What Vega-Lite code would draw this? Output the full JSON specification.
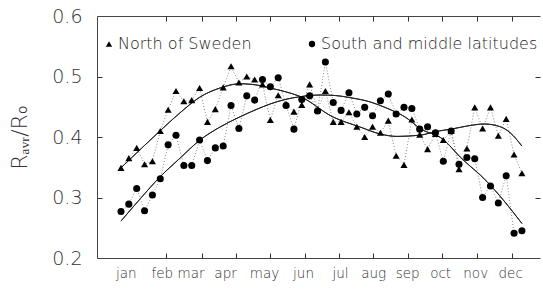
{
  "$schema": "https://vega.github.io/schema/vega-lite/v6.json",
  "width": 443,
  "height": 242,
  "autosize": {"type": "none"},
  "padding": {"left": 97, "top": 16, "right": 3, "bottom": 32},
  "background": "white",
  "config": {
    "view": {"stroke": null},
    "font": "DejaVu Sans",
    "axis": {"grid": false, "domainColor": "#444", "tickColor": "#333", "labelColor": "#333", "titleColor": "#333", "labelFont": "DejaVu Sans", "titleFont": "DejaVu Sans", "labelFontWeight": 200, "titleFontWeight": 200}
  },
  "datasets": {
    "obs": [
      {"week":1,"series":"North of Sweden","value":0.349},{"week":2,"series":"North of Sweden","value":0.365},{"week":3,"series":"North of Sweden","value":0.382},{"week":4,"series":"North of Sweden","value":0.355},{"week":5,"series":"North of Sweden","value":0.360},{"week":6,"series":"North of Sweden","value":0.410},{"week":7,"series":"North of Sweden","value":0.445},{"week":8,"series":"North of Sweden","value":0.476},{"week":9,"series":"North of Sweden","value":0.459},{"week":10,"series":"North of Sweden","value":0.461},
      {"week":11,"series":"North of Sweden","value":0.481},{"week":12,"series":"North of Sweden","value":0.425},{"week":13,"series":"North of Sweden","value":0.446},{"week":14,"series":"North of Sweden","value":0.482},{"week":15,"series":"North of Sweden","value":0.517},{"week":16,"series":"North of Sweden","value":0.490},{"week":17,"series":"North of Sweden","value":0.500},{"week":18,"series":"North of Sweden","value":0.495},{"week":19,"series":"North of Sweden","value":0.487},{"week":20,"series":"North of Sweden","value":0.428},
      {"week":21,"series":"North of Sweden","value":0.469},{"week":22,"series":"North of Sweden","value":0.455},{"week":23,"series":"North of Sweden","value":0.442},{"week":24,"series":"North of Sweden","value":0.453},{"week":25,"series":"North of Sweden","value":0.487},{"week":26,"series":"North of Sweden","value":0.445},{"week":27,"series":"North of Sweden","value":0.476},{"week":28,"series":"North of Sweden","value":0.425},{"week":29,"series":"North of Sweden","value":0.425},{"week":30,"series":"North of Sweden","value":0.441},
      {"week":31,"series":"North of Sweden","value":0.417},{"week":32,"series":"North of Sweden","value":0.400},{"week":33,"series":"North of Sweden","value":0.417},{"week":34,"series":"North of Sweden","value":0.407},{"week":35,"series":"North of Sweden","value":0.427},{"week":36,"series":"North of Sweden","value":0.369},{"week":37,"series":"North of Sweden","value":0.354},{"week":38,"series":"North of Sweden","value":0.429},{"week":39,"series":"North of Sweden","value":0.404},{"week":40,"series":"North of Sweden","value":0.380},
      {"week":41,"series":"North of Sweden","value":0.405},{"week":42,"series":"North of Sweden","value":0.395},{"week":43,"series":"North of Sweden","value":0.410},{"week":44,"series":"North of Sweden","value":0.347},{"week":45,"series":"North of Sweden","value":0.381},{"week":46,"series":"North of Sweden","value":0.449},{"week":47,"series":"North of Sweden","value":0.414},{"week":48,"series":"North of Sweden","value":0.449},{"week":49,"series":"North of Sweden","value":0.402},{"week":50,"series":"North of Sweden","value":0.430},
      {"week":51,"series":"North of Sweden","value":0.371},{"week":52,"series":"North of Sweden","value":0.340},
      {"week":1,"series":"South and middle latitudes","value":0.277},{"week":2,"series":"South and middle latitudes","value":0.289},{"week":3,"series":"South and middle latitudes","value":0.315},{"week":4,"series":"South and middle latitudes","value":0.278},{"week":5,"series":"South and middle latitudes","value":0.304},{"week":6,"series":"South and middle latitudes","value":0.331},{"week":7,"series":"South and middle latitudes","value":0.387},{"week":8,"series":"South and middle latitudes","value":0.403},{"week":9,"series":"South and middle latitudes","value":0.353},{"week":10,"series":"South and middle latitudes","value":0.353},
      {"week":11,"series":"South and middle latitudes","value":0.395},{"week":12,"series":"South and middle latitudes","value":0.361},{"week":13,"series":"South and middle latitudes","value":0.382},{"week":14,"series":"South and middle latitudes","value":0.385},{"week":15,"series":"South and middle latitudes","value":0.452},{"week":16,"series":"South and middle latitudes","value":0.414},{"week":17,"series":"South and middle latitudes","value":0.468},{"week":18,"series":"South and middle latitudes","value":0.461},{"week":19,"series":"South and middle latitudes","value":0.495},{"week":20,"series":"South and middle latitudes","value":0.483},
      {"week":21,"series":"South and middle latitudes","value":0.498},{"week":22,"series":"South and middle latitudes","value":0.452},{"week":23,"series":"South and middle latitudes","value":0.413},{"week":24,"series":"South and middle latitudes","value":0.462},{"week":25,"series":"South and middle latitudes","value":0.468},{"week":26,"series":"South and middle latitudes","value":0.443},{"week":27,"series":"South and middle latitudes","value":0.524},{"week":28,"series":"South and middle latitudes","value":0.457},{"week":29,"series":"South and middle latitudes","value":0.444},{"week":30,"series":"South and middle latitudes","value":0.473},
      {"week":31,"series":"South and middle latitudes","value":0.438},{"week":32,"series":"South and middle latitudes","value":0.449},{"week":33,"series":"South and middle latitudes","value":0.435},{"week":34,"series":"South and middle latitudes","value":0.460},{"week":35,"series":"South and middle latitudes","value":0.471},{"week":36,"series":"South and middle latitudes","value":0.438},{"week":37,"series":"South and middle latitudes","value":0.449},{"week":38,"series":"South and middle latitudes","value":0.447},{"week":39,"series":"South and middle latitudes","value":0.413},{"week":40,"series":"South and middle latitudes","value":0.417},
      {"week":41,"series":"South and middle latitudes","value":0.407},{"week":42,"series":"South and middle latitudes","value":0.360},{"week":43,"series":"South and middle latitudes","value":0.410},{"week":44,"series":"South and middle latitudes","value":0.355},{"week":45,"series":"South and middle latitudes","value":0.366},{"week":46,"series":"South and middle latitudes","value":0.364},{"week":47,"series":"South and middle latitudes","value":0.300},{"week":48,"series":"South and middle latitudes","value":0.319},{"week":49,"series":"South and middle latitudes","value":0.291},{"week":50,"series":"South and middle latitudes","value":0.336},
      {"week":51,"series":"South and middle latitudes","value":0.241},{"week":52,"series":"South and middle latitudes","value":0.245}
    ],
    "fit": [
      {"week":1,"series":"North of Sweden","value":0.349},{"week":3.42,"series":"North of Sweden","value":0.379},{"week":5.96,"series":"North of Sweden","value":0.410},{"week":8.51,"series":"North of Sweden","value":0.440},{"week":11.05,"series":"North of Sweden","value":0.466},{"week":13.6,"series":"North of Sweden","value":0.481},{"week":16.15,"series":"North of Sweden","value":0.488},{"week":18.69,"series":"North of Sweden","value":0.485},{"week":19.96,"series":"North of Sweden","value":0.481},{"week":21.87,"series":"North of Sweden","value":0.475},{"week":23.78,"series":"North of Sweden","value":0.467},{"week":27.98,"series":"North of Sweden","value":0.433},{"week":31.42,"series":"North of Sweden","value":0.4165},{"week":33.96,"series":"North of Sweden","value":0.405},{"week":36.1,"series":"North of Sweden","value":0.401},{"week":39.06,"series":"North of Sweden","value":0.403},{"week":41.0,"series":"North of Sweden","value":0.409},{"week":43.0,"series":"North of Sweden","value":0.413},{"week":45.4,"series":"North of Sweden","value":0.419},{"week":47.2,"series":"North of Sweden","value":0.4215},{"week":49.24,"series":"North of Sweden","value":0.417},{"week":50.51,"series":"North of Sweden","value":0.407},{"week":52,"series":"North of Sweden","value":0.385},
      {"week":1,"series":"South and middle latitudes","value":0.261},{"week":3.42,"series":"South and middle latitudes","value":0.2975},{"week":5.96,"series":"South and middle latitudes","value":0.334},{"week":8.51,"series":"South and middle latitudes","value":0.365},{"week":11.05,"series":"South and middle latitudes","value":0.395},{"week":13.6,"series":"South and middle latitudes","value":0.4165},{"week":15.76,"series":"South and middle latitudes","value":0.431},{"week":18.05,"series":"South and middle latitudes","value":0.4446},{"week":19.96,"series":"South and middle latitudes","value":0.4545},{"week":21.87,"series":"South and middle latitudes","value":0.462},{"week":23.78,"series":"South and middle latitudes","value":0.4666},{"week":26.33,"series":"South and middle latitudes","value":0.4694},{"week":28.24,"series":"South and middle latitudes","value":0.4686},{"week":30.15,"series":"South and middle latitudes","value":0.465},{"week":32.69,"series":"South and middle latitudes","value":0.458},{"week":34.86,"series":"South and middle latitudes","value":0.4474},{"week":37.15,"series":"South and middle latitudes","value":0.433},{"week":39.06,"series":"South and middle latitudes","value":0.414},{"week":41.98,"series":"South and middle latitudes","value":0.396},{"week":44.14,"series":"South and middle latitudes","value":0.367},{"week":47.58,"series":"South and middle latitudes","value":0.326},{"week":49.62,"series":"South and middle latitudes","value":0.296},{"week":52,"series":"South and middle latitudes","value":0.257}
    ]
  },
  "resolve": {"axis": {"x": "independent", "y": "independent"}},
  "layer": [
    {
      "data": {"name": "obs"},
      "mark": {"type": "line", "strokeDash": [1, 2], "strokeWidth": 1, "color": "#888"},
      "encoding": {
        "x": {"field": "week", "type": "quantitative", "scale": {"domain": [-2.05, 54.3], "nice": false, "zero": false},
          "axis": {"orient": "bottom", "values": [1.6, 6.2, 9.85, 14.24, 19.2, 24.16, 28.87, 33.07, 37.4, 41.6, 46.06, 50.51], "ticks": false, "labelPadding": 8, "labelFontSize": 13.5, "labelOverlap": false, "title": null, "domain": true,
            "labelExpr": "datum.value < 4 ? 'jan' : datum.value < 8 ? 'feb' : datum.value < 12 ? 'mar' : datum.value < 16 ? 'apr' : datum.value < 21 ? 'may' : datum.value < 26 ? 'jun' : datum.value < 30 ? 'jul' : datum.value < 35 ? 'aug' : datum.value < 39 ? 'sep' : datum.value < 43 ? 'oct' : datum.value < 48 ? 'nov' : 'dec'"}},
        "y": {"field": "value", "type": "quantitative", "scale": {"domain": [0.2, 0.6], "nice": false, "zero": false},
          "axis": {"orient": "left", "values": [0.2, 0.3, 0.4, 0.5, 0.6], "format": ".1f", "ticks": false, "labelPadding": 15, "labelFontSize": 19, "labelOverlap": false, "title": "Rₐᵥᵣ/R₀", "titleFontSize": 22, "titlePadding": 20}},
        "detail": {"field": "series"}
      }
    },
    {
      "data": {"name": "fit"},
      "mark": {"type": "line", "interpolate": "monotone", "strokeWidth": 1, "color": "#222"},
      "encoding": {
        "x": {"field": "week", "type": "quantitative", "scale": {"domain": [-2.05, 54.3], "nice": false, "zero": false},
          "axis": {"orient": "top", "offset": -5, "values": [6.73, 11.31, 15.64, 19.96, 24.42, 28.75, 33.07, 37.53, 41.86, 46.31, 50.77], "tickSize": 5, "labels": false, "title": null, "domain": false}},
        "y": {"field": "value", "type": "quantitative", "scale": {"domain": [0.2, 0.6], "nice": false, "zero": false},
          "axis": {"orient": "right", "offset": -5, "values": [0.3, 0.4, 0.5], "tickSize": 5, "labels": false, "title": null, "domain": false}},
        "detail": {"field": "series"}
      }
    },
    {
      "data": {"name": "fit"},
      "mark": {"type": "line", "interpolate": "monotone", "strokeWidth": 1, "color": "#222"},
      "encoding": {
        "x": {"field": "week", "type": "quantitative", "scale": {"domain": [-2.05, 54.3], "nice": false, "zero": false},
          "axis": {"orient": "bottom", "offset": -5, "values": [6.73, 11.31, 15.64, 19.96, 24.42, 28.75, 33.07, 37.53, 41.86, 46.31, 50.77], "tickSize": 5, "labels": false, "title": null, "domain": false}},
        "y": {"field": "value", "type": "quantitative", "scale": {"domain": [0.2, 0.6], "nice": false, "zero": false},
          "axis": {"orient": "left", "offset": -5, "values": [0.3, 0.4, 0.5], "tickSize": 5, "labels": false, "title": null, "domain": false}},
        "detail": {"field": "series"}
      }
    },
    {
      "data": {"name": "obs"},
      "mark": {"type": "point", "filled": true, "opacity": 1, "color": "black", "size": 50},
      "encoding": {
        "x": {"field": "week", "type": "quantitative", "scale": {"domain": [-2.05, 54.3], "nice": false, "zero": false},
          "axis": {"orient": "top", "ticks": false, "labels": false, "title": null, "domain": true}},
        "y": {"field": "value", "type": "quantitative", "scale": {"domain": [0.2, 0.6], "nice": false, "zero": false}, "axis": null},
        "shape": {"field": "series", "type": "nominal",
          "scale": {"domain": ["North of Sweden", "South and middle latitudes"], "range": ["triangle-up", "circle"]},
          "legend": {"orient": "none", "legendX": 4, "legendY": 20, "direction": "horizontal", "title": null, "labelFontSize": 16, "labelFont": "DejaVu Sans", "labelFontWeight": 200, "labelColor": "#222", "labelLimit": 0, "symbolSize": 40, "columnPadding": 52, "labelOffset": 1, "padding": 0, "symbolFillColor": "black", "symbolStrokeColor": "black"}}
      }
    }
  ]
}
